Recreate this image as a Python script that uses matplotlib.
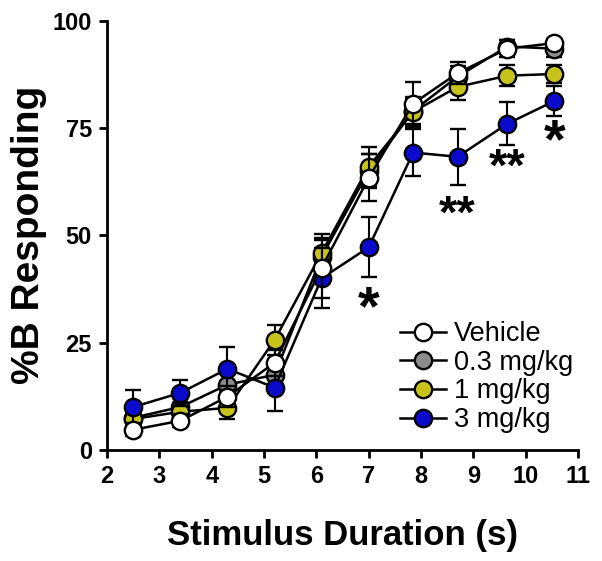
import numpy as np
import matplotlib
matplotlib.use("Agg")
import matplotlib.pyplot as plt
from matplotlib.lines import Line2D

plt.rcParams['font.family'] = ['Liberation Sans', 'DejaVu Sans']

# stimulus durations (s)
dur = [2.5, 3.4, 4.3, 5.2, 6.1, 7.0, 7.85, 8.7, 9.65, 10.55]

groups = ['Vehicle', '0.3 mg/kg', '1 mg/kg', '3 mg/kg']
colors = ['white', '#8c8c8c', '#c8c31a', '#0a0acc']

vehicle = [4.7, 6.8, 12.4, 20.3, 42.4, 63.4, 80.7, 87.8, 93.5, 94.8]
vehicle_err = [1.5, 1.5, 2.5, 3.0, 7.0, 5.5, 5.0, 2.5, 2.0, 1.0]
low = [7.5, 10.0, 15.2, 17.5, 45.0, 65.0, 79.0, 87.0, 94.0, 93.5]
low_err = [2.0, 2.0, 3.0, 3.0, 4.0, 4.0, 3.0, 2.5, 1.5, 2.0]
mid = [7.2, 8.9, 9.8, 25.6, 45.9, 66.0, 78.8, 84.6, 87.2, 87.6]
mid_err = [2.0, 2.0, 2.5, 3.5, 4.5, 4.5, 3.5, 3.0, 2.5, 2.0]
high = [10.0, 13.3, 18.9, 14.5, 40.0, 47.2, 69.3, 68.3, 76.0, 81.3]
high_err = [4.0, 3.0, 5.0, 5.5, 7.0, 7.0, 5.5, 6.5, 5.0, 3.6]

# significance marks for 3 mg/kg
star_x = [7.0, 8.7, 9.65, 10.55]
star_y = [32.5, 54.5, 65.5, 71.5]
star_txt = ['*', '**', '**', '*']
star_size = [40, 34, 34, 40]

fig = plt.figure(figsize=(6.02, 5.61), dpi=100)
ax = fig.add_axes([0.178, 0.198, 0.782, 0.765])

series = [(vehicle, vehicle_err), (low, low_err), (mid, mid_err), (high, high_err)]
order = [1, 2, 3, 0]
for k, i in enumerate(order):
    y, e = series[i]
    ax.errorbar(dur, y, yerr=e, color='black', lw=1.8, elinewidth=1.5,
                capsize=5.5, capthick=1.5, marker='o', ms=12.5,
                mfc=colors[i], mec='black', mew=1.7, zorder=3 + k)

for sx, sy, st, fs in zip(star_x, star_y, star_txt, star_size):
    ax.text(sx, sy, st, ha='center', va='center', fontsize=fs, fontweight='bold')

ax.set_xlim(2, 11)
ax.set_ylim(0, 100)
ax.set_xticks(range(2, 12))
ax.set_yticks([0, 25, 50, 75, 100])
for s in ['top', 'right']:
    ax.spines[s].set_visible(False)
for s in ['left', 'bottom']:
    ax.spines[s].set_linewidth(2)
ax.tick_params(width=2, length=6, labelsize=17, direction='out', pad=5)
for lab in ax.get_xticklabels() + ax.get_yticklabels():
    lab.set_fontweight('bold')

ax.set_xlabel('Stimulus Duration (s)', fontsize=25, fontweight='bold', labelpad=22)
ax.set_ylabel('%B Responding', fontsize=28, fontweight='bold', labelpad=4)

handles = [Line2D([], [], color='black', lw=1.8, marker='o', ms=12.5,
                  mfc=c, mec='black', mew=1.7) for c in colors]
ax.legend(handles, groups, loc='lower right', bbox_to_anchor=(1.03, -0.005),
          frameon=False, fontsize=19.5, handlelength=1.7, handletextpad=0.3,
          labelspacing=0.1, borderpad=0.2)

fig.savefig('out.png', dpi=100)
